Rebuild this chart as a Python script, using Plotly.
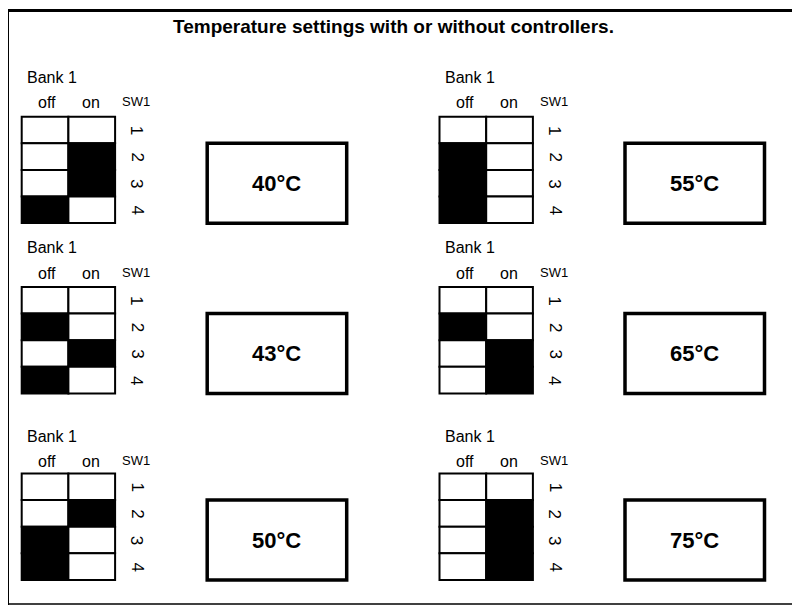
import plotly.graph_objects as go

# ---- data ----
title_text = "Temperature settings with or without controllers."
bank_label = "Bank 1"
col_labels = ["off", "on"]
sw_label = "SW1"
switch_numbers = ["1", "2", "3", "4"]

# panels ordered row by row: (left, right)
temperatures = ["40°C", "55°C", "43°C", "65°C", "50°C", "75°C"]
# 1 = black (filled) cell, rows 1..4
off_filled = [
    [0, 0, 0, 1],
    [0, 1, 1, 1],
    [0, 1, 0, 1],
    [0, 1, 0, 0],
    [0, 0, 1, 1],
    [0, 0, 0, 0],
]
on_filled = [
    [0, 1, 1, 0],
    [0, 0, 0, 0],
    [0, 0, 1, 0],
    [0, 0, 1, 1],
    [0, 1, 0, 0],
    [0, 1, 1, 1],
]

# ---- layout constants (pixel space) ----
W, H = 800, 606
PAGE_OFF = 8  # default page margin of the html body
col_lefts = [21.7, 439.5]
row_tops = [116.7, 287.0, 473.5]
bank_dy = [-39.5, -39.5, -37]
head_dy = [-14, -14, -12]
cell_w, cell_h = 46.7, 26.6
box_dx, box_w = 185.5, 139.5
box_dy, box_h = 26.5, 80.0
FONT = "Liberation Sans, Arial, sans-serif"

fig = go.Figure()
shapes = []
annotations = []

# outer frame
shapes.append(dict(type="line", xref="x", yref="y", x0=7.5, y0=9, x1=7.5, y1=605,
                   line=dict(color="black", width=3)))
shapes.append(dict(type="line", xref="x", yref="y", x0=6, y0=10.5, x1=810, y1=10.5,
                   line=dict(color="black", width=3)))
shapes.append(dict(type="line", xref="x", yref="y", x0=6, y0=604, x1=810, y1=604,
                   line=dict(color="black", width=1.5)))

annotations.append(dict(x=393, y=26, xref="x", yref="y", text="<b>%s</b>" % title_text,
                        showarrow=False, font=dict(family=FONT, size=19, color="black"),
                        xanchor="center", yanchor="middle"))

for i, temp in enumerate(temperatures):
    r, c = divmod(i, 2)
    gx = col_lefts[c]
    gy = row_tops[r]
    # labels
    annotations.append(dict(x=gx + 3.5, y=gy + bank_dy[r], xref="x", yref="y", text=bank_label,
                            showarrow=False, font=dict(family=FONT, size=16, color="black"),
                            xanchor="left", yanchor="middle"))
    for k, lab in enumerate(col_labels):
        annotations.append(dict(x=gx + 25 + k * 44.5, y=gy + head_dy[r], xref="x", yref="y",
                                text=lab, showarrow=False,
                                font=dict(family=FONT, size=16, color="black"),
                                xanchor="center", yanchor="middle"))
    annotations.append(dict(x=gx + 98.5, y=gy + head_dy[r] - 1, xref="x", yref="y", text=sw_label,
                            showarrow=False, font=dict(family=FONT, size=13, color="black"),
                            xanchor="left", yanchor="middle"))
    # cells
    for j in range(4):
        y0 = gy + j * cell_h
        for k, filled in enumerate([off_filled[i][j], on_filled[i][j]]):
            x0 = gx + k * cell_w
            shapes.append(dict(type="rect", xref="x", yref="y", x0=x0, y0=y0,
                               x1=x0 + cell_w, y1=y0 + cell_h,
                               fillcolor="black" if filled else "white",
                               line=dict(color="black", width=2)))
        annotations.append(dict(x=gx + 115.5, y=y0 + cell_h / 2, xref="x", yref="y",
                                text=switch_numbers[j], textangle=90, showarrow=False,
                                font=dict(family=FONT, size=17, color="black"),
                                xanchor="center", yanchor="middle"))
    # temperature box
    bx0 = gx + box_dx
    by0 = gy + box_dy
    shapes.append(dict(type="rect", xref="x", yref="y", x0=bx0, y0=by0,
                       x1=bx0 + box_w, y1=by0 + box_h, fillcolor="white",
                       line=dict(color="black", width=3.5)))
    annotations.append(dict(x=bx0 + box_w / 2, y=by0 + box_h / 2, xref="x", yref="y",
                            text="<b>%s</b>" % temp, showarrow=False,
                            font=dict(family=FONT, size=22, color="black"),
                            xanchor="center", yanchor="middle"))

fig.update_layout(
    width=W, height=H,
    margin=dict(l=0, r=0, t=0, b=0),
    paper_bgcolor="white", plot_bgcolor="white",
    xaxis=dict(range=[PAGE_OFF, W + PAGE_OFF], visible=False, fixedrange=True),
    yaxis=dict(range=[H + PAGE_OFF, PAGE_OFF], visible=False, fixedrange=True),
    shapes=shapes, annotations=annotations, showlegend=False,
)
fig.write_html("out.html", config={"displayModeBar": False})
